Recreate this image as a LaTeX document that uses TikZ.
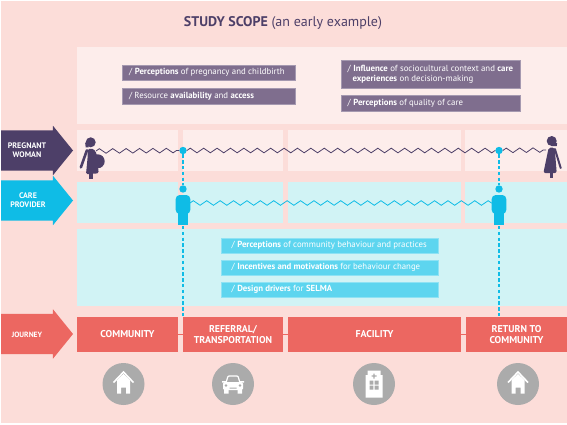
\documentclass[tikz,border=0pt]{standalone}
\usepackage{fontspec}
\setmainfont{PT Sans}
\usetikzlibrary{positioning,shapes.arrows,decorations.pathmorphing}
\definecolor{bgpink}{HTML}{FCDDD9}
\definecolor{palepink}{HTML}{FDEDEB}
\definecolor{palecyan}{HTML}{D1F3F5}
\definecolor{inkpurple}{HTML}{4D3F68}
\definecolor{boxpurple}{HTML}{7F6E8E}
\definecolor{inkcyan}{HTML}{0FBCE6}
\definecolor{boxcyan}{HTML}{5DD5EF}
\definecolor{inkred}{HTML}{EC6761}
\definecolor{icongrey}{HTML}{ABABAB}
\tikzset{
  house icon/.pic={
    \fill[white] (-6.5,-4) -- (0,-10) -- (6.5,-4) -- (6.5,9.5) -- (2.5,9.5) -- (2.5,3.5)
                 -- (-2.5,3.5) -- (-2.5,9.5) -- (-6.5,9.5) -- cycle;
    \draw[white, line width=1.6pt] (-10,-1.5) -- (0,-12) -- (10,-1.5);
  },
  car icon/.pic={
    \draw[white, line width=1.2pt, rounded corners=1pt] (-7,-1) -- (-5,-8) -- (5,-8) -- (7,-1);
    \fill[white, rounded corners=1.5pt] (-10,-2) rectangle (10,6);
    \fill[white] (-9,5) rectangle (-4.5,9.5) (4.5,5) rectangle (9,9.5);
    \fill[white] (-11,-3) rectangle (-7,-1.5) (7,-3) rectangle (11,-1.5);
    \fill[icongrey] (-7,1.5) circle (1.4) (7,1.5) circle (1.4) (-3.5,3.5) rectangle (3.5,4.5);
  },
  hospital icon/.pic={
    \fill[white] (-6.5,-13.5) -- (6.5,-13.5) -- (6.5,-9) -- (8.5,-9) -- (8.5,13.5)
                 -- (-8.5,13.5) -- (-8.5,-9) -- (-6.5,-9) -- cycle;
    \fill[icongrey] (-0.6,-10.5) rectangle (0.6,-5.5) (-2.5,-8.6) rectangle (2.5,-7.4);
    \fill[icongrey] (-4.5,-3.5) rectangle (-0.7,0.5) (0.7,-3.5) rectangle (4.5,0.5)
                    (-4.5,1.5) rectangle (-0.7,5.5) (0.7,1.5) rectangle (4.5,5.5);
  },
  pregnant figure/.pic={
    \fill[inkpurple] (0,0) circle (5);
    \fill[inkpurple] (-5.5,1) -- (-3,-2) -- (-2,5) -- (-5,5) -- cycle;
    \fill[inkpurple, rounded corners=1.5pt] (-3,6.5) -- (3,6.5) -- (6,11.5) -- (8,31) -- (-4.7,32) -- (-3,14) -- cycle;
    \fill[inkpurple] (7,19) circle (7);
    \fill[inkpurple] (-1.5,31) rectangle (2.5,37);
    \draw[inkpurple, line width=2.6pt, line cap=round] (-3.8,8) -- (-9.8,25);
  },
  woman figure/.pic={
    \fill[inkpurple] (0,0) circle (5);
    \fill[inkpurple] (0,1) -- (5.5,2) -- (5,5) -- (0,5) -- cycle;
    \fill[inkpurple, rounded corners=2pt] (-3,6.5) -- (3,6.5) -- (5,32) -- (-8.3,32) -- cycle;
    \fill[inkpurple] (-1.7,31) rectangle (1.7,37);
    \draw[inkpurple, line width=2pt, line cap=round] (3.2,8) -- (9,27);
  },
  provider figure/.pic={
    \fill[inkcyan, rounded corners=4pt] (-7.3,25) -- (-7.3,6) -- (7.3,6) -- (7.3,25) -- cycle;
    \fill[inkcyan] (-5,20) rectangle (5,36);
  },
}

\begin{document}
\begin{tikzpicture}[
  x=1pt, y=-1pt,
  panel/.style={inner sep=0pt, outer sep=0pt, minimum height=41pt},
  pinkpanel/.style={panel, fill=palepink},
  cyanpanel/.style={panel, fill=palecyan},
  stage/.style={panel, fill=inkred, minimum height=35pt, align=center, text=white,
                font=\fontsize{9.9}{11.8}\selectfont\bfseries},
  lane/.style={single arrow, single arrow tip angle=102, single arrow head extend=4.5pt,
               minimum height=72pt, minimum width=49pt, inner sep=0pt, outer sep=0pt,
               text height=20pt, text depth=20pt, text width=52pt, anchor=tail},
  lanelabel/.style={inner sep=0pt, text=white, align=center,
                    font=\fontsize{8}{9}\selectfont\bfseries},
  tag/.style={anchor=north west, minimum height=15.5pt, inner sep=0pt, outer sep=0pt,
              text=white, align=flush left, font=\fontsize{8.8}{10}\selectfont},
  purpletag/.style={tag, fill=boxpurple, draw=boxpurple!70!white, line width=0.4pt},
  cyantag/.style={tag, fill=boxcyan, draw=boxcyan!70!white, line width=0.4pt},
  stop/.style={circle, fill=icongrey, minimum size=42pt, inner sep=0pt},
  dot/.style={circle, fill=inkcyan, minimum size=7.4pt, inner sep=0pt},
  wave/.style={decorate, decoration={zigzag, segment length=13.4pt, amplitude=2.3pt},
               line width=0.8pt},
  link/.style={draw=inkcyan, dash pattern=on 3.4pt off 2.4pt, line width=1.2pt},
]
\useasboundingbox (0,0) rectangle (567,425);
\fill[white] (0,0) rectangle (567,425);
\fill[bgpink] (1,1) rectangle (567,423);

% --- Title ---
\node[text=inkpurple, inner sep=0pt, font=\fontsize{14}{16}\selectfont] (title) at (283,23)
  {\textbf{STUDY SCOPE} (an early example)};

% --- Large panels ---
\node[pinkpanel, anchor=north west, minimum width=490pt, minimum height=77pt] (upper) at (77,47) {};
\node[cyanpanel, anchor=north west, minimum width=490pt, minimum height=77pt] (lower) at (77,229) {};

% --- Woman row ---
\node[pinkpanel, anchor=north west, minimum width=101pt] (womanA) at (77,130) {};
\node[pinkpanel, right=5pt of womanA, minimum width=100pt] (womanB) {};
\node[pinkpanel, right=5pt of womanB, minimum width=173pt] (womanC) {};
\node[pinkpanel, right=4pt of womanC, minimum width=102pt] (womanD) {};

% --- Provider row ---
\node[cyanpanel, anchor=north west, minimum width=101pt] (careA) at (77,182) {};
\node[cyanpanel, right=5pt of careA, minimum width=100pt] (careB) {};
\node[cyanpanel, right=5pt of careB, minimum width=173pt] (careC) {};
\node[cyanpanel, right=4pt of careC, minimum width=102pt] (careD) {};

% --- Journey row ---
\node[stage, anchor=north west, minimum width=101pt] (community) at (77,317) {COMMUNITY};
\node[stage, right=5pt of community, minimum width=100pt] (referral) {REFERRAL/\\TRANSPORTATION};
\node[stage, right=5pt of referral, minimum width=173pt] (facility) {FACILITY};
\node[stage, right=5pt of facility, minimum width=101pt] (return) {RETURN TO\\COMMUNITY};
\draw[inkred, line width=1.4pt] (community) -- (referral);
\draw[inkred, line width=1.4pt] (referral) -- (facility);
\draw[inkred, line width=1.4pt] (facility) -- (return);

% --- Lane arrows ---
\node[lane, fill=inkpurple] (woman) at (1,150.5) {};
\node[lane, fill=inkcyan] (provider) at (1,200.5) {};
\node[lane, fill=inkred] (journey) at (1,334) {};
\node[lanelabel] (womantext) at (27,150) {PREGNANT\\WOMAN};
\node[lanelabel] (providertext) at (28,200.5) {CARE\\PROVIDER};
\node[lanelabel, font=\fontsize{7.6}{9}\selectfont\bfseries] (journeytext) at (27,335) {JOURNEY};

% --- Purple tags ---
\node[purpletag, minimum width=173pt, text width=160pt, inner xsep=6.5pt] (percA) at (122.5,65)
  {/ \textbf{Perceptions} of pregnancy and childbirth};
\node[purpletag, below=8pt of percA, minimum width=173pt, text width=160pt, inner xsep=6.5pt] (resource)
  {/ Resource \textbf{availability} and \textbf{access}};
\node[purpletag, minimum width=179pt, minimum height=28pt, text width=166pt, inner xsep=6.5pt,
      font=\fontsize{8.8}{10.3}\selectfont] (influence) at (341,60)
  {/ \textbf{Influence} of sociocultural context and \textbf{care}\\
   \hspace*{5pt}\textbf{experiences} on decision-making};
\node[purpletag, below=7.5pt of influence, minimum width=179pt, text width=166pt, inner xsep=6.5pt] (quality)
  {/ \textbf{Perceptions} of quality of care};

% --- Cyan tags ---
\node[cyantag, minimum width=216.5pt, text width=196.5pt, inner xsep=10pt] (percB) at (221.5,238)
  {/ \textbf{Perceptions} of community behaviour and practices};
\node[cyantag, below=6.5pt of percB, minimum width=216.5pt, text width=196.5pt, inner xsep=10pt] (incent)
  {/ \textbf{Incentives and motivations} for behaviour change};
\node[cyantag, below=6.5pt of incent, minimum width=216.5pt, text width=196.5pt, inner xsep=10pt] (design)
  {/ \textbf{Design drivers} for \textbf{SELMA}};

% --- Dots and heads on the referral and return lines ---
\node[dot] (dotA) at (183,150.5) {};
\node[dot] (dotB) at (499,150.5) {};
\node[dot] (headA) at (183,189) {};
\node[dot] (headB) at (499,189) {};
\coordinate (waveL) at (96,151);
\coordinate (waveR) at (546,150);
\coordinate (careL) at (190,203);
\coordinate (careR) at (493,203);
\coordinate (belowA) at (183,226);
\coordinate (belowB) at (499,226);

% --- Waves ---
\draw[wave, inkpurple] (waveL) -- (dotA);
\draw[wave, inkpurple] (dotA) -- (dotB);
\draw[wave, inkpurple] (dotB) -- (waveR);
\draw[wave, inkcyan] (careL) -- (careR);

% --- Figures ---
\pic at (90.7,142.3) {pregnant figure};
\pic at (551.7,141) {woman figure};
\pic at (183,189) {provider figure};
\pic at (499,189) {provider figure};

% --- Dashed links ---
\draw[link] (dotA) -- (headA);
\draw[link] (dotB) -- (headB);
\draw[link] (belowA) -- (referral.north -| belowA);
\draw[link] (belowB) -- (return.north -| belowB);

% --- Icons ---
\node[stop] (home) at (123.5,384) {};
\node[stop] (car) at (233,384) {};
\node[stop] (hospital) at (374,384) {};
\node[stop] (homeagain) at (518,384) {};
\pic at (home) {house icon};
\pic at (car) {car icon};
\pic at (hospital) {hospital icon};
\pic at (homeagain) {house icon};
\end{tikzpicture}
\end{document}
